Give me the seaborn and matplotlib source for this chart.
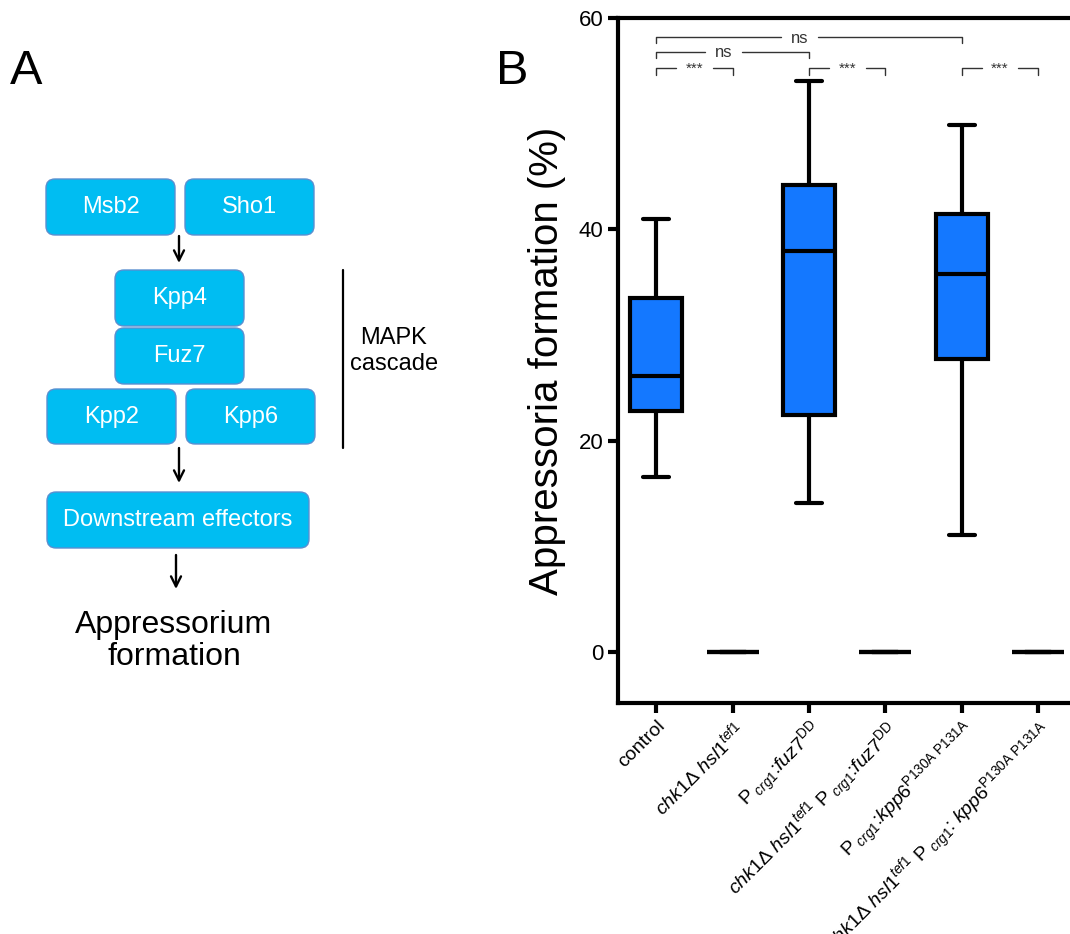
import numpy as np
import pandas as pd
import seaborn as sns
import matplotlib.pyplot as plt
from matplotlib.patches import FancyBboxPatch

# strains in plotting order
strains = ["control", "chk1_hsl1", "fuz7DD", "chk1_hsl1_fuz7DD", "kpp6", "chk1_hsl1_kpp6"]
tick_labels = [
    "control",
    r"$chk1\Delta\ hsl1^{tef1}$",
    r"P$_{\ crg1}$:$fuz7^{\mathrm{DD}}$",
    r"$chk1\Delta\ hsl1^{tef1}$ P$_{\ crg1}$:$fuz7^{\mathrm{DD}}$",
    r"P$_{\ crg1}$:$kpp6^{\mathrm{P130A\ P131A}}$",
    r"$chk1\Delta\ hsl1^{tef1}$ P$_{\ crg1}$: $kpp6^{\mathrm{P130A\ P131A}}$",
]

# values: min, Q1, median, Q3, max (appressoria %)
control = [16.6, 22.8, 26.1, 33.5, 41.0]
chk1_hsl1 = [0, 0, 0, 0, 0]
fuz7dd = [14.1, 22.4, 38.0, 44.2, 54.0]
chk1_hsl1_fuz7dd = [0, 0, 0, 0, 0]
kpp6 = [11.1, 27.7, 35.8, 41.5, 49.9]
chk1_hsl1_kpp6 = [0, 0, 0, 0, 0]

# significance brackets
sig_pairs = [(0, 4), (0, 2), (0, 1), (2, 3), (4, 5)]
sig_labels = ["ns", "ns", "***", "***", "***"]
sig_heights = [58.2, 56.8, 55.25, 55.25, 55.25]

# panel A pathway boxes
path_names = ["Msb2", "Sho1", "Kpp4", "Fuz7", "Kpp2", "Kpp6", "Downstream effectors"]

values = [control, chk1_hsl1, fuz7dd, chk1_hsl1_fuz7dd, kpp6, chk1_hsl1_kpp6]
df = pd.DataFrame({
    "strain": np.repeat(strains, [len(v) for v in values]),
    "value": np.concatenate(values),
})

sns.set_theme(style="ticks")
plt.rcParams["font.family"] = ["Liberation Sans", "DejaVu Sans"]
plt.rcParams["mathtext.fontset"] = "custom"
plt.rcParams["mathtext.rm"] = "Liberation Sans"
plt.rcParams["mathtext.it"] = "Liberation Sans:italic"
plt.rcParams["mathtext.bf"] = "Liberation Sans:bold"
for key in ["text.color", "axes.labelcolor", "xtick.color", "ytick.color"]:
    plt.rcParams[key] = "black"

fig = plt.figure(figsize=(10.7, 9.34), dpi=100)

#%% Panel A - pathway diagram, drawn in pixel coordinates
axA = fig.add_axes([0, 0, 1, 1])
axA.set_xlim(0, 1070)
axA.set_ylim(934, 0)
axA.axis("off")

boxes = [(46, 179, 129, 56), (185, 179, 129, 56), (115, 270, 129, 56),
         (115, 328, 129, 56), (47, 389, 129, 55), (186, 389, 129, 55),
         (47, 492, 262, 56)]
for name, (x, y, w, h) in zip(path_names, boxes):
    axA.add_patch(FancyBboxPatch((x, y), w, h, boxstyle="round,pad=0,rounding_size=9",
                                 fc="#00BDF2", ec="#5A8FD0", lw=1))
    axA.text(x + w / 2, y + h / 2, name, ha="center", va="center",
             color="white", fontsize=17)

for x, y0, y1 in [(179, 236, 263), (179, 448, 483), (176, 555, 589)]:
    axA.annotate("", xy=(x, y1), xytext=(x, y0),
                 arrowprops=dict(arrowstyle="->", lw=1.7, color="black",
                                 mutation_scale=18, shrinkA=0, shrinkB=0))

axA.plot([343, 343], [270, 448], color="black", lw=1.6)
axA.text(394, 351, "MAPK\ncascade", ha="center", va="center", fontsize=17,
         linespacing=1.25)
axA.text(174, 641, "Appressorium\nformation", ha="center", va="center",
         fontsize=23, linespacing=1.1)

axA.text(10, 72, "A", fontsize=35, ha="left", va="center")
axA.text(496, 72, "B", fontsize=35, ha="left", va="center")

#%% Panel B - boxplot
ax = fig.add_axes([618 / 1070, 1 - 703 / 934, 6 * 76.4 / 1070, (703 - 18) / 934])
sns.boxplot(data=df, x="strain", y="value", order=strains, ax=ax,
            color="#1478FF", saturation=1, width=0.68, linewidth=3,
            linecolor="black", whis=np.inf, showfliers=False)

ax.set_xlim(-0.5, 5.5)
ax.set_ylim(-4.8, 60)
ax.set_yticks([0, 20, 40, 60])
ax.set_xticks(range(len(strains)))
ax.set_xticklabels(tick_labels, rotation=45, ha="right", rotation_mode="anchor",
                   fontsize=14)
ax.tick_params(axis="y", labelsize=16)
ax.tick_params(width=3, length=7, color="black")
for side in ["left", "bottom", "top", "right"]:
    ax.spines[side].set_linewidth(3)
    ax.spines[side].set_color("black")
ax.set_xlabel("")
ax.set_ylabel("Appressoria formation (%)", fontsize=29, labelpad=9)

for (i, j), lab, h in zip(sig_pairs, sig_labels, sig_heights):
    # ns labels sit a little left of the bracket centre
    mid = (i + j) / 2 - (0.12 if lab == "ns" else 0)
    gap = 0.24
    ax.plot([i, i, mid - gap], [h - 0.6, h, h], color="#333333", lw=1)
    ax.plot([mid + gap, j, j], [h, h, h - 0.6], color="#333333", lw=1)
    ax.text(mid, h - 0.1, lab, ha="center", va="center",
            fontsize=12 if lab == "ns" else 11, color="#333333")

fig.savefig("out.png", dpi=100)
